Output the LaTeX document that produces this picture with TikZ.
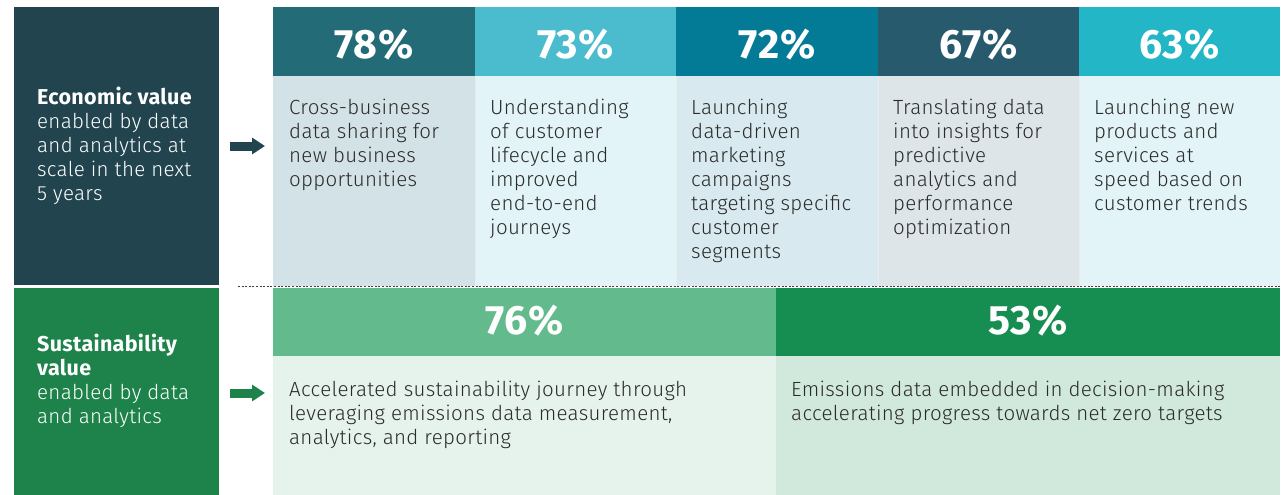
\documentclass[tikz,border=0pt]{standalone}
\usepackage{fontspec}
\setmainfont{Fira Sans}[UprightFont={* Light},BoldFont={* Bold},LetterSpace=1.5]
\usetikzlibrary{arrows.meta,calc}
\definecolor{econdark}{HTML}{21444F}
\definecolor{sustgreen}{HTML}{1D834B}
\definecolor{hA}{HTML}{236B77}
\definecolor{hB}{HTML}{4ABCCD}
\definecolor{hC}{HTML}{037B96}
\definecolor{hD}{HTML}{285A6E}
\definecolor{hE}{HTML}{22B6C6}
\definecolor{bA}{HTML}{D3E2E6}
\definecolor{bB}{HTML}{E2F4F7}
\definecolor{bC}{HTML}{D8EAEF}
\definecolor{bD}{HTML}{DDE5E9}
\definecolor{bE}{HTML}{E2F4F7}
\definecolor{gHA}{HTML}{62BA8D}
\definecolor{gBA}{HTML}{E6F3EC}
\definecolor{gHB}{HTML}{168E51}
\definecolor{gBB}{HTML}{D1E9DC}
\definecolor{bodytext}{HTML}{2B2B2B}
\newcommand{\fl}{\rule{0pt}{18pt}}
\newcommand{\sidehead}[1]{{\fontsize{21.5}{24}\selectfont\bfseries #1}}
\tikzset{
  cell/.style={rectangle, draw=none, inner sep=0pt, outer sep=0pt, anchor=north west},
  pct/.style={inner sep=0pt, anchor=base, text=white, font=\fontsize{41}{46}\selectfont\bfseries},
  bodytxt/.style={inner sep=0pt, anchor=north west, align=left, text=bodytext, font=\fontsize{20.5}{24}\selectfont},
  sidetxt/.style={inner sep=0pt, anchor=north west, align=left, text=white, font=\fontsize{20.5}{24}\selectfont},
  bigarrow/.style={line width=9pt, -{Triangle[length=13pt,width=16pt]}},
  sep/.style={draw=black!75, line width=1.1pt, dash pattern=on 2pt off 1.6pt}
}
\begin{document}
\begin{tikzpicture}[x=1pt,y=-1pt]
\useasboundingbox (0,0) rectangle (1285,495);
% left boxes
\node[cell, fill=econdark, minimum width=205pt, minimum height=278pt] (econ) at (14,7) {};
\node[cell, fill=sustgreen, minimum width=205pt, minimum height=207pt] (sust) at (14,288) {};
% top headers
\node[cell, fill=hA, minimum width=202pt, minimum height=69pt] (h1) at (273,7) {};
\node[cell, fill=hB, minimum width=201pt, minimum height=69pt] (h2) at (475,7) {};
\node[cell, fill=hC, minimum width=202pt, minimum height=69pt] (h3) at (676,7) {};
\node[cell, fill=hD, minimum width=201pt, minimum height=69pt] (h4) at (878,7) {};
\node[cell, fill=hE, minimum width=201pt, minimum height=69pt] (h5) at (1079,7) {};
% top bodies
\node[cell, fill=bA, minimum width=202pt, minimum height=210pt] (b1) at (273,76) {};
\node[cell, fill=bB, minimum width=201pt, minimum height=210pt] (b2) at (475,76) {};
\node[cell, fill=bC, minimum width=202pt, minimum height=210pt] (b3) at (676,76) {};
\node[cell, fill=bD, minimum width=201pt, minimum height=210pt] (b4) at (878,76) {};
\node[cell, fill=bE, minimum width=201pt, minimum height=210pt] (b5) at (1079,76) {};
% bottom
\node[cell, fill=gHA, minimum width=503pt, minimum height=68pt] (g1) at (273,288) {};
\node[cell, fill=gHB, minimum width=504pt, minimum height=68pt] (g2) at (776,288) {};
\node[cell, fill=gBA, minimum width=503pt, minimum height=139pt] (gb1) at (273,356) {};
\node[cell, fill=gBB, minimum width=504pt, minimum height=139pt] (gb2) at (776,356) {};
% subtle separators
\foreach \c in {b2,b3,b4,b5} \draw[black!8, line width=0.8pt] (\c.north west) -- (\c.south west);
% dotted divider
\coordinate (dl) at (238,286.5);
\draw[sep] (dl) -- (dl -| b5.east);
% percentages
\node[pct] (p1) at ($(h1.south)+(0,-17)$) {78\%};
\node[pct] (p2) at ($(h2.south)+(0,-17)$) {73\%};
\node[pct] (p3) at ($(h3.south)+(0,-17)$) {72\%};
\node[pct] (p4) at ($(h4.south)+(0,-17)$) {67\%};
\node[pct] (p5) at ($(h5.south)+(0,-17)$) {63\%};
\node[pct] (p6) at ($(g1.south)+(0,-22)$) {76\%};
\node[pct] (p7) at ($(g2.south)+(0,-22)$) {53\%};
% side texts
\node[sidetxt] (et) at (37,86) {\fl\sidehead{Economic value}\\enabled by data\\and analytics at\\scale in the next\\5 years};
\node[sidetxt] (st) at (37,333) {\fl\sidehead{Sustainability}\\\sidehead{value}\\enabled by data\\and analytics};
% body texts
\node[bodytxt] (t1) at (289,96) {\fl Cross-business\\data sharing for\\new business\\opportunities};
\node[bodytxt] (t2) at (490,96) {\fl Understanding\\of customer\\lifecycle and\\improved\\end-to-end\\journeys};
\node[bodytxt] (t3) at (691,96) {\fl Launching\\data-driven\\marketing\\campaigns\\targeting specific\\customer\\segments};
\node[bodytxt] (t4) at (893,96) {\fl Translating data\\into insights for\\predictive\\analytics and\\performance\\optimization};
\node[bodytxt] (t5) at (1094,96) {\fl Launching new\\products and\\services at\\speed based on\\customer trends};
\node[bodytxt] (t6) at (289,378) {\fl Accelerated sustainability journey through\\leveraging emissions data measurement,\\analytics, and reporting};
\node[bodytxt] (t7) at (791,378) {\fl Emissions data embedded in decision-making\\accelerating progress towards net zero targets};
% arrows
\draw[bigarrow, econdark] ($(econ.east)+(11,0)$) -- ($(econ.east -| h1.west)+(-8,0)$);
\draw[bigarrow, sustgreen] ($(sust.east)+(11,1.5)$) -- ($(sust.east -| g1.west)+(-8,1.5)$);
\end{tikzpicture}
\end{document}
